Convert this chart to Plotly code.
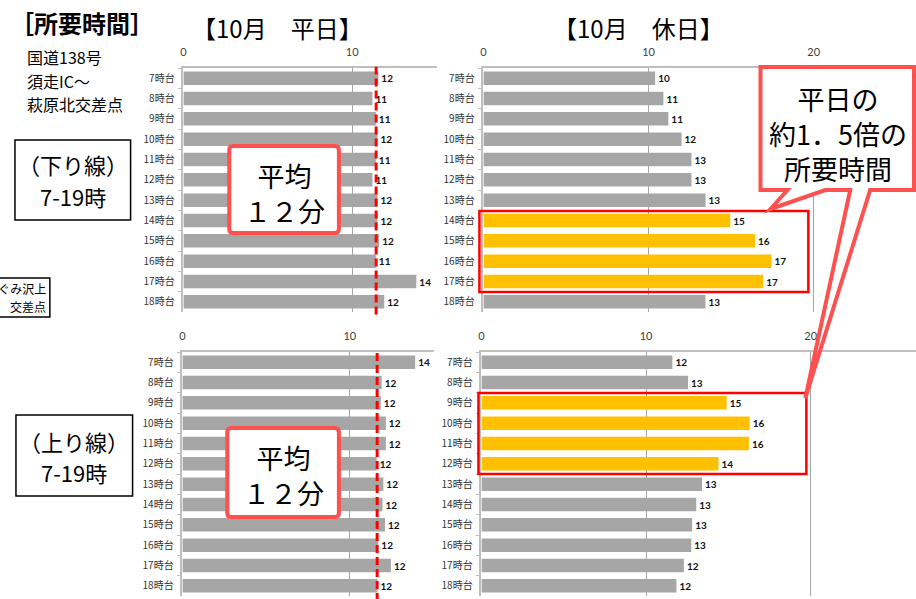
import plotly.graph_objects as go

W, H = 916, 599

# Time-of-day categories (7:00–18:00 start hours)
hours = ["7時台", "8時台", "9時台", "10時台", "11時台", "12時台",
         "13時台", "14時台", "15時台", "16時台", "17時台", "18時台"]

# Travel time in minutes, Route 138 Subashiri IC – Hagiwara-kita intersection
down_weekday = [11.55, 11.2, 11.4, 11.5, 11.4, 11.2, 11.5, 11.5, 11.6, 11.4, 13.8, 11.9]
down_holiday = [10.4, 10.9, 11.2, 12.0, 12.6, 12.6, 13.45, 14.95, 16.45, 17.45, 16.95, 13.45]
up_weekday = [13.9, 11.9, 11.85, 12.15, 12.15, 11.6, 12.0, 11.95, 12.1, 11.7, 12.45, 11.65]
up_holiday = [11.6, 12.55, 14.9, 16.3, 16.25, 14.4, 13.4, 13.05, 12.8, 12.75, 12.3, 11.85]

# Congested hours on holidays
down_holiday_peak = ["14時台", "15時台", "16時台", "17時台"]
up_holiday_peak = ["9時台", "10時台", "11時台", "12時台"]

# Weekday average reference lines
avg_down_weekday = 11.42
avg_up_weekday = 11.63

x_ticks = [0, 10, 20]

GRAY = "#A6A6A6"
GOLD = "#FFC000"
CALLOUT = "#FF5050"
JP = "Noto Sans CJK JP"


def px(x):
    return x / W


def py(y):
    return 1 - y / H


def bar_colors(cats, peak):
    return [GOLD if c in peak else GRAY for c in cats]


fig = go.Figure()

panels = [
    # (values, peak, xaxis, yaxis)
    (down_weekday, [], "x", "y"),
    (down_holiday, down_holiday_peak, "x2", "y2"),
    (up_weekday, [], "x3", "y3"),
    (up_holiday, up_holiday_peak, "x4", "y4"),
]

for vals, peak, xa, ya in panels:
    fig.add_trace(go.Bar(
        x=vals, y=hours, orientation="h",
        marker=dict(color=bar_colors(hours, peak), line=dict(width=0)),
        texttemplate="<b>%{x:.0f}</b>", textposition="outside",
        textfont=dict(family="Lato, Liberation Sans", size=10, color="#111111"),
        cliponaxis=False, xaxis=xa, yaxis=ya, hoverinfo="skip",
    ))

# Panel geometry in pixels: (x0, x1, y_top, y_bottom, x_max)
geom = {
    "1": (181, 435, 68, 312, 15),
    "2": (482, 916, 68, 312, 26.2),
    "3": (180, 432, 352, 596, 15),
    "4": (480, 916, 352, 596, 26.4),
}

layout = dict(
    width=W, height=H, margin=dict(l=0, r=0, t=0, b=0),
    paper_bgcolor="white", plot_bgcolor="white",
    showlegend=False, bargap=0.34,
    font=dict(family=JP, color="#000000"),
)

for k, (x0, x1, yt, yb, xmax) in geom.items():
    suffix = "" if k == "1" else k
    layout["xaxis" + suffix] = dict(
        domain=[px(x0), px(x1)], range=[0, xmax], side="top",
        anchor="y" + suffix, tickvals=x_ticks,
        showline=True, linecolor="#BFBFBF", linewidth=1.5,
        showgrid=True, gridcolor="#A6A6A6", gridwidth=1.2,
        zeroline=False, ticks="", ticklabelstandoff=6,
        tickfont=dict(family="Lato, Liberation Sans", size=11, color="#404040"),
        fixedrange=True,
    )
    layout["yaxis" + suffix] = dict(
        domain=[py(yb), py(yt)], anchor="x" + suffix,
        type="category", categoryorder="array", categoryarray=hours,
        autorange="reversed",
        showline=True, linecolor="#BFBFBF", linewidth=1.5,
        ticks="outside", tickson="boundaries", ticklen=4, tickcolor="#BFBFBF",
        ticklabelstandoff=5,
        tickfont=dict(family=JP, size=10, color="#333333"),
        showgrid=False, zeroline=False, fixedrange=True,
    )

fig.update_layout(**layout)

shapes = []

# Weekday average dashed lines
for xr, yr, avg, y_ext in [("x", "y domain", avg_down_weekday, -0.01),
                           ("x3", "y3 domain", avg_up_weekday, -0.02)]:
    shapes.append(dict(type="line", xref=xr, yref=yr, x0=avg, x1=avg,
                       y0=y_ext, y1=1.005,
                       line=dict(color="#FF0000", width=3, dash="8px,4px"),
                       layer="above"))


def rounded_rect(x0, y0, x1, y1, r):
    return (f"M {px(x0 + r)},{py(y0)} L {px(x1 - r)},{py(y0)} "
            f"Q {px(x1)},{py(y0)} {px(x1)},{py(y0 + r)} "
            f"L {px(x1)},{py(y1 - r)} Q {px(x1)},{py(y1)} {px(x1 - r)},{py(y1)} "
            f"L {px(x0 + r)},{py(y1)} Q {px(x0)},{py(y1)} {px(x0)},{py(y1 - r)} "
            f"L {px(x0)},{py(y0 + r)} Q {px(x0)},{py(y0)} {px(x0 + r)},{py(y0)} Z")


# "平均12分" boxes
for box in [(227, 146, 337, 233), (225, 428, 337, 517)]:
    shapes.append(dict(type="path", xref="paper", yref="paper",
                       path=rounded_rect(*box, 4),
                       fillcolor="white", line=dict(color=CALLOUT, width=4),
                       layer="above"))

# Peak-hour highlight frames
for (x0, y0, x1, y1) in [(478, 211, 808, 292), (477, 393, 806, 474)]:
    shapes.append(dict(type="rect", xref="paper", yref="paper",
                       x0=px(x0), x1=px(x1), y0=py(y1), y1=py(y0),
                       line=dict(color="#FF0000", width=2.5), layer="above"))

# Speech bubble with two pointers
pts = [(760, 67), (914, 67), (914, 190), (870, 190), (805, 398), (850, 190),
       (825, 190), (770, 209), (787, 190), (760, 190)]
path = "M " + " L ".join(f"{px(a)},{py(b)}" for a, b in pts) + " Z"
shapes.append(dict(type="path", xref="paper", yref="paper", path=path,
                   fillcolor="white", line=dict(color=CALLOUT, width=4),
                   layer="above"))

# Direction label frames
for (x0, y0, x1, y1) in [(12, 140, 128, 220), (13, 415, 130, 496), (-12, 278, 47, 317)]:
    shapes.append(dict(type="rect", xref="paper", yref="paper",
                       x0=px(x0), x1=px(x1), y0=py(y1), y1=py(y0),
                       line=dict(color="#000000", width=1.5), fillcolor="white",
                       layer="above"))

fig.update_layout(shapes=shapes)

ann = []


def text(s, x, y, size, xanchor="center", bold=False, align="center"):
    ann.append(dict(text=f"<b>{s}</b>" if bold else s, x=px(x), y=py(y),
                    xref="paper", yref="paper", xanchor=xanchor, yanchor="middle",
                    align=align, showarrow=False, borderpad=0,
                    font=dict(family=JP, size=size, color="#000000")))


text("［所要時間］", 79, 23, 24, bold=True)
text("【10月　平日】", 275, 27, 24)
text("【10月　休日】", 638, 27, 24)
text("国道138号", 23, 57, 16, xanchor="left")
text("須走IC～", 23, 80.5, 16, xanchor="left")
text("萩原北交差点", 23, 104, 16, xanchor="left")
text("（下り線）", 70, 164, 22)
text("7-19時", 70, 196, 22)
text("（上り線）", 71, 441, 22)
text("7-19時", 71, 472, 22)
text("ぐみ沢上", 44, 288, 12, xanchor="right")
text("交差点", 44, 306, 12, xanchor="right")
text("平均<br>１２分", 282, 192.5, 27)
text("平均<br>１２分", 281, 474.5, 27)
text("平日の<br>約1．5倍の<br>所要時間", 838, 133, 27)

fig.update_layout(annotations=ann)

fig.write_html("out.html")
